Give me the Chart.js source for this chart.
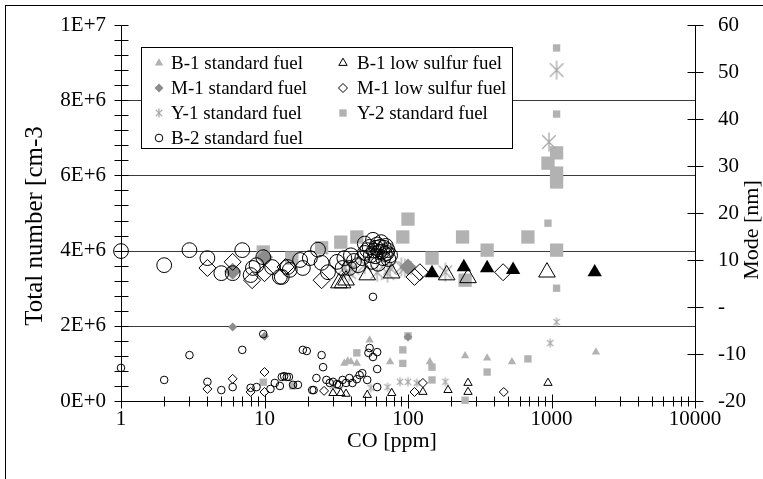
<!DOCTYPE html>
<html><head><meta charset="utf-8">
<script src="https://cdn.jsdelivr.net/npm/chart.js@4.4.1/dist/chart.umd.min.js"></script>
<style>html,body{margin:0;padding:0;background:#fff}canvas{display:block}</style>
</head><body>
<canvas id="c" width="763" height="479"></canvas>
<script>
// ---------- data (CO [ppm], value) ----------
const xTicks = [1, 10, 100, 1000, 10000];
const totalTicks = [0, 2e6, 4e6, 6e6, 8e6, 1e7];
const modeTicks = [-20, -10, 0, 10, 20, 30, 40, 50, 60];
const gridValues = [2e6, 4e6, 6e6, 8e6];
const seriesNames = ['B-1 standard fuel', 'B-1 low sulfur fuel', 'M-1 standard fuel', 'M-1 low sulfur fuel', 'Y-1 standard fuel', 'Y-2 standard fuel', 'B-2 standard fuel'];

// total number [cm-3] (left axis)
const b1StdTotal = [[36,1.0e6],[38,1.06e6],[40,1.04e6],[44,1.0e6],[54,1.62e6],[75,1.04e6],[142,1.04e6],[250,1.2e6],[356,1.14e6],[530,1.04e6],[2040,1.3e6]];
const b1LsTotal = [[30,2.1e5],[34,2.1e5],[37,1.9e5],[52,1.6e5],[77,2.1e5],[127,2.4e5],[190,2.9e5],[262,4.8e5],[262,2.4e5],[945,4.8e5]];
const m1StdTotal = [[6,1.97e6],[10,1.72e6],[100,1.7e6]];
const m1LsTotal = [[4,3.2e5],[6,5.9e5],[8,2.4e5],[10,7.7e5],[10,2.4e5],[26,2.7e5],[111,2.4e5],[127,4.8e5],[465,2.4e5]];
const y1Total = [[30,4.0e5],[55,3.5e5],[72,3.7e5],[88,5.1e5],[100,5.1e5],[115,4.8e5],[182,5.1e5],[980,1.54e6],[1085,2.1e6]];
const y2Total = [[9.8,5.0e5],[15.8,4.0e5],[44,1.28e6],[92,1.36e6],[92,1.0e6],[100,1.73e6],[147,9.0e5],[147,5.6e5],[250,2e4],[356,7.7e5],[685,1.12e6],[945,4.73e6],[1085,3.0e6],[1085,7.63e6],[1085,9.39e6]];
const b2Total = [[1,8.8e5],[2,5.6e5],[3,1.22e6],[4,5.1e5],[5,2.9e5],[6,3.7e5],[7,1.36e6],[8,3.5e5],[8.8,3.7e5],[9.8,1.78e6],[11,3.2e5],[11.8,4.8e5],[12.8,4.0e5],[13.2,6.4e5],[13.7,6.6e5],[14.3,6.4e5],[14.8,6.4e5],[15.8,4.3e5],[17.1,4.3e5],[18.5,1.36e6],[19.7,1.33e6],[21.5,2.9e5],[22,2.9e5],[23,6.1e5],[25,1.22e6],[25.6,9.0e5],[27,5.6e5],[28.5,4.8e5],[30,5.1e5],[32,4.5e5],[33,4.3e5],[35,5.6e5],[37,4.8e5],[39,6.1e5],[41,4.8e5],[44,5.8e5],[46,6.9e5],[48,7.4e5],[52,5.6e5],[53,1.28e6],[54,1.41e6],[57,1.17e6],[57,2.77e6],[61,1.3e6],[61,8.5e5],[61,3.7e5]];

// mode [nm] (right axis)
const b1StdMode = [[147,7.2],[245,8.5],[356,8.3],[540,7.9],[2000,7.4]];
const b1LsMode = [[33,5.1],[35,5.1],[37,5.7],[52,6.8],[77,7.2],[186,6.8],[262,6.2],[930,7.4]];
const m1StdMode = [[6,7.6],[10,10.6],[100,8.5]];
const m1LsMode = [[4,8.3],[6,9.6],[8.2,5.7],[10,7.2],[14,8.5],[25,5.7],[111,6.4],[121,7.4],[460,7.4]];
const y1Mode = [[36,8.3],[39,7.4],[41,8.3],[50,9.0],[61,7.4],[72,7.2],[75,8.3],[90,8.5],[95,8.3],[182,7.4],[960,35.1],[1085,50.4]];
const y2Mode = [[9.8,11.7],[15.5,10.4],[25,12.6],[34,13.8],[44,14.9],[92,14.9],[100,18.7],[147,10.4],[240,14.9],[250,5.7],[356,12.1],[685,14.9],[945,30.6],[1085,32.8],[1085,28.5],[1085,26.6],[1085,12.1]];
const b2Mode = [[1,11.9],[2,8.9],[3,12.1],[4,10.4],[5,7.2],[6,7.2],[7,12.1],[8,6.8],[8.3,8.3],[8.8,8.9],[9.8,10.6],[11.3,8.5],[12.8,6.4],[13.2,6.4],[14.5,8.5],[15,7.9],[17.7,10],[18.5,8.3],[20.7,10.4],[23.6,12.2],[25,9.4],[27.7,7.4],[32,9.6],[35,8.3],[36,10.4],[39,8.3],[40,11],[42,9.8],[45,8.9],[48,10.4],[50,11.5],[50,13.5],[52,12.1],[54,12.8],[55,11],[56,9.6],[57,14.3],[58,12],[59,10.8],[60,12.6],[61,13.3],[62,9.2],[63,11.7],[64,12.8],[65,13.8],[66,11.8],[67,10.4],[68,12.6],[69,11.3],[70,13],[71,11.5],[72,12.1],[73,10.2],[75,11]];

// ---------- styles ----------
const FONT = '"Liberation Serif", "Times New Roman", serif';
const GRAY = '#b2b2b2', MGRAY = '#8c8c8c', NONE = 'rgba(0,0,0,0)';
function asterisk(r, color, lw) {
  const s = Math.ceil(2 * r + 3), c = document.createElement('canvas');
  c.width = s; c.height = s;
  const g = c.getContext('2d'); g.strokeStyle = color; g.lineWidth = lw; g.beginPath();
  [Math.PI / 2, Math.PI / 4, 3 * Math.PI / 4].forEach(a => {
    g.moveTo(s / 2 + Math.cos(a) * r, s / 2 + Math.sin(a) * r);
    g.lineTo(s / 2 - Math.cos(a) * r, s / 2 - Math.sin(a) * r);
  });
  g.stroke(); return c;
}
const starSmall = asterisk(4.5, '#a8a8a8', 1.2), starBig = asterisk(9.5, '#a8a8a8', 1.3);

const styles = {
  b1Std:  {t:{ps:'triangle', r:4.8, bg:GRAY, bc:GRAY, bw:0}, m:{ps:'triangle', r:8.3, bg:'#000', bc:'#000', bw:0}},
  b1Ls:   {t:{ps:'triangle', r:4.8, bg:NONE, bc:'#000', bw:1}, m:{ps:'triangle', r:9.6, bg:NONE, bc:'#000', bw:1}},
  m1Std:  {t:{ps:'rectRot', r:4.5, bg:MGRAY, bc:MGRAY, bw:0}, m:{ps:'rectRot', r:8.5, bg:MGRAY, bc:MGRAY, bw:0}},
  m1Ls:   {t:{ps:'rectRot', r:4.5, bg:NONE, bc:'#000', bw:1}, m:{ps:'rectRot', r:8.5, bg:NONE, bc:'#000', bw:1}},
  y1:     {t:{ps:starSmall, r:5, bg:NONE, bc:GRAY, bw:0}, m:{ps:starBig, r:10, bg:NONE, bc:GRAY, bw:0}},
  y2:     {t:{ps:'rect', r:5.2, bg:GRAY, bc:GRAY, bw:0}, m:{ps:'rect', r:9.4, bg:GRAY, bc:GRAY, bw:0}},
  b2:     {t:{ps:'circle', r:3.8, bg:NONE, bc:'#000', bw:1}, m:{ps:'circle', r:7.4, bg:NONE, bc:'#000', bw:1}}
};

function ds(label, arr, axis, st, order) {
  return {
    label, yAxisID: axis, order, clip: false, showLine: false,
    data: arr.map(p => ({x: p[0], y: p[1]})),
    pointStyle: st.ps, pointRadius: st.r, pointBackgroundColor: st.bg,
    pointBorderColor: st.bc, pointBorderWidth: st.bw, pointHoverRadius: st.r
  };
}

const datasets = [
  ds(seriesNames[6] + ' mode', b2Mode, 'y2', styles.b2.m, 0),
  ds(seriesNames[6], b2Total, 'y', styles.b2.t, 0),
  ds(seriesNames[0] + ' mode', b1StdMode, 'y2', styles.b1Std.m, 1),
  ds(seriesNames[0], b1StdTotal, 'y', styles.b1Std.t, 1),
  ds(seriesNames[1] + ' mode', b1LsMode, 'y2', styles.b1Ls.m, 2),
  ds(seriesNames[1], b1LsTotal, 'y', styles.b1Ls.t, 2),
  ds(seriesNames[3] + ' mode', m1LsMode, 'y2', styles.m1Ls.m, 3),
  ds(seriesNames[3], m1LsTotal, 'y', styles.m1Ls.t, 3),
  ds(seriesNames[2] + ' mode', m1StdMode, 'y2', styles.m1Std.m, 4),
  ds(seriesNames[2], m1StdTotal, 'y', styles.m1Std.t, 4),
  ds(seriesNames[4] + ' mode', y1Mode, 'y2', styles.y1.m, 5),
  ds(seriesNames[4], y1Total, 'y', styles.y1.t, 5),
  ds(seriesNames[5] + ' mode', y2Mode, 'y2', styles.y2.m, 6),
  ds(seriesNames[5], y2Total, 'y', styles.y2.t, 6)
];

const legendItems = [
  {name: seriesNames[0], st: styles.b1Std.t, col: 0, row: 0},
  {name: seriesNames[2], st: styles.m1Std.t, col: 0, row: 1},
  {name: seriesNames[4], st: styles.y1.t, col: 0, row: 2},
  {name: seriesNames[6], st: styles.b2.t, col: 0, row: 3},
  {name: seriesNames[1], st: styles.b1Ls.t, col: 1, row: 0},
  {name: seriesNames[3], st: styles.m1Ls.t, col: 1, row: 1},
  {name: seriesNames[5], st: styles.y2.t, col: 1, row: 2}
];

function sci(v) {
  if (v === 0) return '0E+0';
  const e = Math.floor(Math.log10(v) + 1e-9);
  return Math.round(v / Math.pow(10, e)) + 'E+' + e;
}

const decorPlugin = {
  id: 'decor',
  beforeDatasetsDraw(chart) {
    const ctx = chart.ctx, a = chart.chartArea, x = chart.scales.x, y = chart.scales.y, y2 = chart.scales.y2;
    ctx.save();
    ctx.lineWidth = 1; ctx.strokeStyle = '#3a3a3a';
    gridValues.forEach(v => {
      const py = Math.round(y.getPixelForValue(v)) + 0.5;
      ctx.beginPath(); ctx.moveTo(a.left, py); ctx.lineTo(a.right, py); ctx.stroke();
    });
    ctx.strokeStyle = '#000';
    const L = Math.round(a.left) + 0.5, R = Math.round(a.right) + 0.5, B = Math.round(a.bottom) + 0.5;
    ctx.beginPath();
    ctx.moveTo(L, a.top); ctx.lineTo(L, a.bottom);
    ctx.moveTo(R, a.top); ctx.lineTo(R, a.bottom);
    ctx.moveTo(a.left, B); ctx.lineTo(a.right, B);
    for (let i = 0; i <= 25; i++) {
      const py = Math.round(y.getPixelForValue(i * 4e5)) + 0.5;
      ctx.moveTo(L - 7, py); ctx.lineTo(L + 7, py);
    }
    modeTicks.forEach(v => {
      const py = Math.round(y2.getPixelForValue(v)) + 0.5;
      ctx.moveTo(R - 8, py); ctx.lineTo(R + 8, py);
    });
    xTicks.forEach((d, di) => {
      const kmax = di === xTicks.length - 1 ? 1 : 9;
      for (let k = 1; k <= kmax; k++) {
        const px = Math.round(x.getPixelForValue(d * k)) + 0.5, len = k === 1 ? 7 : 5;
        ctx.moveTo(px, B - len); ctx.lineTo(px, B + len);
      }
    });
    ctx.stroke();
    ctx.restore();
  },
  afterDatasetsDraw(chart) {
    const ctx = chart.ctx;
    ctx.save();
    ctx.fillStyle = '#fff'; ctx.fillRect(141.5, 47.5, 371, 101);
    ctx.strokeStyle = '#000'; ctx.lineWidth = 1; ctx.strokeRect(141.5, 47.5, 371, 101);
    ctx.font = '19px ' + FONT; ctx.textBaseline = 'middle'; ctx.textAlign = 'left'; ctx.fillStyle = '#000';
    legendItems.forEach(it => {
      const mx = it.col === 0 ? 159 : 343, tx = it.col === 0 ? 171 : 357, py = 63 + it.row * 25;
      ctx.save();
      ctx.fillStyle = it.st.bg; ctx.strokeStyle = it.st.bc; ctx.lineWidth = it.st.bw;
      Chart.helpers.drawPoint(ctx, {pointStyle: it.st.ps, rotation: 0, radius: it.st.r, borderWidth: it.st.bw}, mx, py);
      ctx.restore();
      ctx.fillStyle = '#000';
      ctx.fillText(it.name, tx, py + 1);
    });
    ctx.restore();
  },
  afterDraw(chart) {
    const ctx = chart.ctx;
    ctx.save();
    ctx.fillStyle = '#000'; ctx.textAlign = 'center'; ctx.textBaseline = 'middle';
    ctx.font = '22px ' + FONT;
    ctx.fillText('CO [ppm]', 392, 441);
    ctx.save(); ctx.translate(35, 226); ctx.rotate(-Math.PI / 2);
    ctx.font = '25px ' + FONT; ctx.fillText('Total number [cm-3', 0, 0); ctx.restore();
    ctx.save(); ctx.translate(752, 230); ctx.rotate(-Math.PI / 2);
    ctx.font = '22px ' + FONT; ctx.fillText('Mode [nm]', 0, 0); ctx.restore();
    ctx.strokeStyle = '#000'; ctx.lineWidth = 1;
    ctx.strokeRect(5.5, 5.5, 800, 520);
    ctx.restore();
  }
};

function fixV(w) { return s => { s.width = w; s.paddingTop = 0; s.paddingBottom = 0; }; }

new Chart(document.getElementById('c'), {
  type: 'scatter',
  data: {datasets},
  options: {
    responsive: false, animation: false, events: [],
    layout: {padding: {top: 25, left: 0, right: 0, bottom: 0}},
    plugins: {legend: {display: false}, tooltip: {enabled: false}},
    scales: {
      x: {
        type: 'logarithmic', position: 'bottom', min: 1, max: 10000,
        afterFit: s => { s.height = 78; s.paddingLeft = 0; s.paddingRight = 0; },
        afterBuildTicks: s => { s.ticks = xTicks.map(v => ({value: v})); },
        grid: {display: false, drawTicks: false}, border: {display: false},
        ticks: {autoSkip: false, maxRotation: 0, padding: 6, color: '#000', font: {family: FONT, size: 21},
          callback: v => String(v)}
      },
      y: {
        type: 'linear', position: 'left', min: 0, max: 1e7,
        afterFit: fixV(121),
        afterBuildTicks: s => { s.ticks = totalTicks.map(v => ({value: v})); },
        grid: {display: false, drawTicks: false}, border: {display: false},
        ticks: {padding: 15, color: '#000', font: {family: FONT, size: 21}, callback: v => sci(v)}
      },
      y2: {
        type: 'linear', position: 'right', min: -20, max: 60,
        afterFit: fixV(68),
        afterBuildTicks: s => { s.ticks = modeTicks.map(v => ({value: v})); },
        grid: {display: false, drawTicks: false}, border: {display: false},
        ticks: {padding: 23, color: '#000', font: {family: FONT, size: 21}, callback: v => v === 0 ? '-' : String(v)}
      }
    }
  },
  plugins: [decorPlugin]
});
</script>
</body></html>
